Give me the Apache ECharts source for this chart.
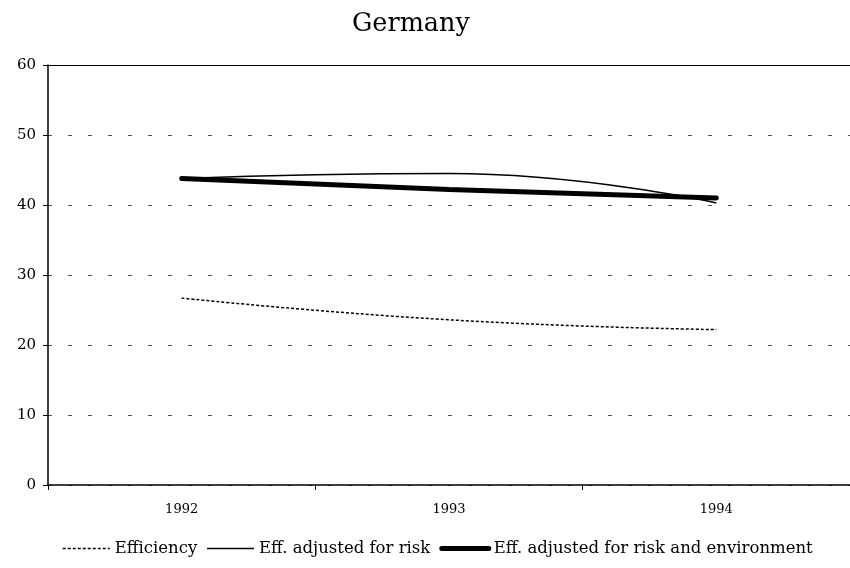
<!DOCTYPE html>
<html>
<head>
<meta charset="utf-8">
<script src="https://cdn.jsdelivr.net/npm/echarts@6/dist/echarts.min.js"></script>
<style>
  html, body { margin: 0; padding: 0; background: #fff; }
  #chart { width: 850px; height: 568px; }
</style>
</head>
<body>
<div id="chart"></div>
<script>
  var years = ['1992', '1993', '1994'];
  var efficiency = [26.7, 23.6, 22.2];
  var effRisk = [43.8, 44.5, 40.3];
  var effRiskEnv = [43.8, 42.2, 41.0];

  var font = '"DejaVu Serif", "Liberation Serif", serif';
  var chart = echarts.init(document.getElementById('chart'));

  chart.setOption({
    animation: false,
    title: {
      text: 'Germany',
      left: 347,
      top: 6,
      textStyle: { fontFamily: font, fontWeight: 'normal', fontSize: 25.5, color: '#000' }
    },
    grid: { left: 48, right: -5, top: 65, bottom: 83 },
    legend: {
      bottom: 6,
      left: 57,
      itemWidth: 47,
      itemHeight: 10,
      itemGap: 9,
      textStyle: { fontFamily: font, fontSize: 16.5, color: '#000' },
      itemStyle: { color: 'transparent', borderWidth: 0 },
      data: [
        { name: 'Efficiency', lineStyle: { width: 1.5 } },
        { name: 'Eff. adjusted for risk', lineStyle: { width: 1.5 } },
        { name: 'Eff. adjusted for risk and environment', lineStyle: { width: 5 } }
      ]
    },
    xAxis: [{
      type: 'category',
      data: years,
      boundaryGap: true,
      axisLine: { lineStyle: { color: '#000', width: 1.5 } },
      axisTick: { show: true, length: 5, lineStyle: { color: '#000' } },
      axisLabel: { fontFamily: font, fontSize: 13, color: '#000', margin: 18 }
    }, {
      type: 'category',
      position: 'top',
      data: years,
      axisLine: { show: true, lineStyle: { color: '#000', width: 1 } },
      axisTick: { show: false },
      axisLabel: { show: false }
    }],
    yAxis: {
      type: 'value',
      min: 0,
      max: 60,
      interval: 10,
      axisLine: { show: true, lineStyle: { color: '#000', width: 1.5 } },
      axisTick: { show: true, length: 5, lineStyle: { color: '#000' } },
      axisLabel: { fontFamily: font, fontSize: 15, color: '#000', margin: 12 },
      splitLine: { lineStyle: { color: '#555', width: 1, type: [4, 16] } }
    },
    series: [{
      name: 'Efficiency',
      type: 'line',
      data: efficiency,
      smooth: true,
      symbol: 'none',
      lineStyle: { color: '#000', width: 1.5, type: [3, 2] },
      itemStyle: { color: '#000' }
    }, {
      name: 'Eff. adjusted for risk',
      type: 'line',
      data: effRisk,
      smooth: true,
      symbol: 'none',
      lineStyle: { color: '#000', width: 1.5 },
      itemStyle: { color: '#000' }
    }, {
      name: 'Eff. adjusted for risk and environment',
      type: 'line',
      data: effRiskEnv,
      smooth: true,
      symbol: 'none',
      lineStyle: { color: '#000', width: 5, cap: 'round' },
      itemStyle: { color: '#000' }
    }]
  });
</script>
</body>
</html>
